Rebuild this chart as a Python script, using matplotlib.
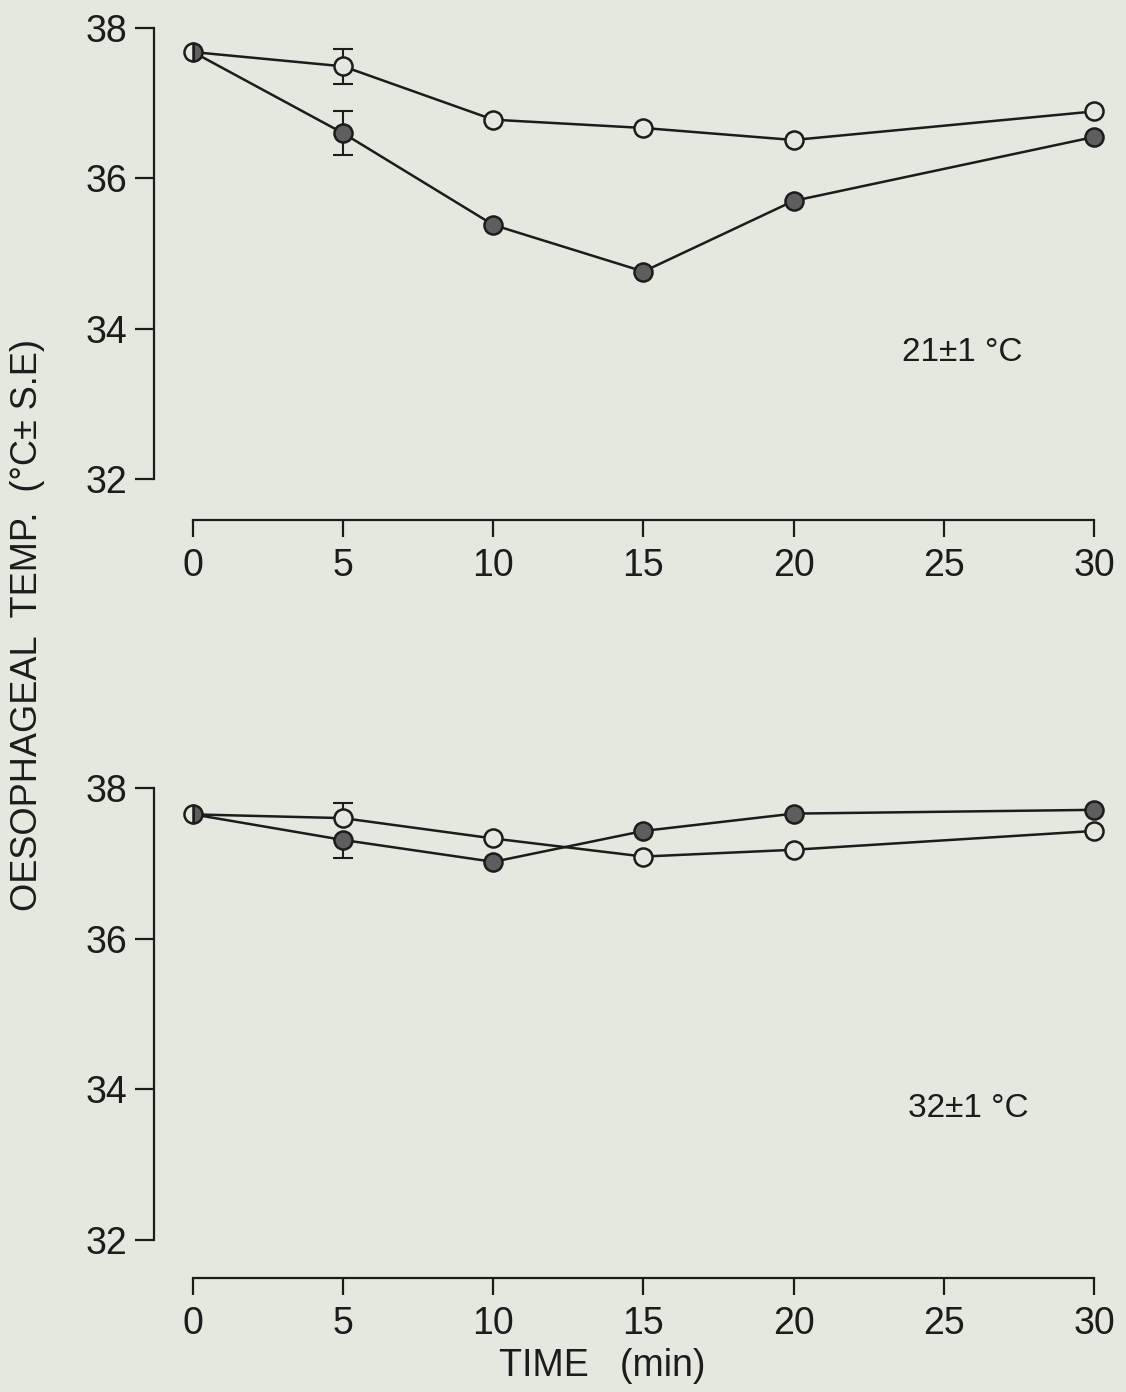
import matplotlib
matplotlib.use("Agg")
import matplotlib.pyplot as plt
import numpy as np

# ---- data ----
time = [0, 5, 10, 15, 20, 30]
xticks = [0, 5, 10, 15, 20, 25, 30]
yticks = [32, 34, 36, 38]

top_open = [37.68, 37.49, 36.78, 36.67, 36.51, 36.89]
top_filled = [37.68, 36.60, 35.38, 34.76, 35.70, 36.55]
top_open_err_lo = [0, 0.23, 0, 0, 0, 0]
top_open_err_hi = [0, 0.23, 0, 0, 0, 0]
top_filled_err_lo = [0, 0.29, 0, 0, 0, 0]
top_filled_err_hi = [0, 0.29, 0, 0, 0, 0]

bot_open = [37.65, 37.60, 37.33, 37.09, 37.18, 37.43]
bot_filled = [37.65, 37.31, 37.02, 37.43, 37.66, 37.71]
bot_open_err_lo = [0, 0, 0, 0, 0, 0]
bot_open_err_hi = [0, 0.20, 0, 0, 0, 0]
bot_filled_err_lo = [0, 0.24, 0, 0, 0, 0]
bot_filled_err_hi = [0, 0, 0, 0, 0, 0]

top_label = "21±1 °C"
bot_label = "32±1 °C"
ylabel = "OESOPHAGEAL  TEMP.  (°C± S.E)"
xlabel = "TIME   (min)"

# ---- style ----
BG = "#e4e8de"
INK = "#1c1c1c"
GREY = "#5e5e5e"
FS = 27
plt.rcParams["font.family"] = ["Liberation Sans", "DejaVu Sans"]

W, H = 1126, 1392
fig = plt.figure(figsize=(W / 100, H / 100), dpi=100, facecolor=BG)

left = 154 / W
xmin, xmax = -1.3, 30.9
width = (xmax - xmin) * 30.03 / W


def make_axes(top_px, bot_px, outward_px):
    ax = fig.add_axes([left, 1 - bot_px / H, width, (bot_px - top_px) / H])
    ax.set_facecolor("none")
    ax.set_xlim(xmin, xmax)
    ax.set_ylim(32, 38)
    for s in ["top", "right"]:
        ax.spines[s].set_visible(False)
    ax.spines["left"].set_bounds(32, 38)
    ax.spines["bottom"].set_bounds(0, 30)
    ax.spines["bottom"].set_position(("outward", outward_px * 0.72))
    for s in ["left", "bottom"]:
        ax.spines[s].set_linewidth(1.6)
        ax.spines[s].set_color(INK)
    ax.set_xticks(xticks)
    ax.set_yticks(yticks)
    ax.tick_params(axis="y", direction="out", length=14, width=1.6, pad=5,
                   labelsize=FS, colors=INK)
    ax.tick_params(axis="x", direction="out", length=12, width=1.6, pad=8,
                   labelsize=FS, colors=INK)
    return ax


def draw(ax, t, yo, yf, eo_lo, eo_hi, ef_lo, ef_hi):
    lw = 1.8
    ms = 13
    ax.plot(t, yo, "-", color=INK, lw=lw, zorder=2)
    ax.plot(t, yf, "-", color=INK, lw=lw, zorder=2)
    # error bars
    for y, lo, hi in [(yo, eo_lo, eo_hi), (yf, ef_lo, ef_hi)]:
        for i in range(len(t)):
            if lo[i] > 0 or hi[i] > 0:
                ax.errorbar([t[i]], [y[i]], yerr=[[lo[i]], [hi[i]]], fmt="none",
                            ecolor=INK, elinewidth=1.5, capsize=7, capthick=1.5,
                            zorder=3)
    # open markers
    ax.plot(t[1:], yo[1:], "o", ms=ms, mfc=BG, mec=INK, mew=1.8, zorder=4, ls="none")
    # filled markers
    ax.plot(t[1:], yf[1:], "o", ms=ms, mfc=GREY, mec=INK, mew=1.8, zorder=4, ls="none")
    # shared first point (half filled)
    ax.plot(t[:1], yf[:1], "o", ms=ms, mfc=GREY, mfcalt=BG, fillstyle="right",
            mec=INK, mew=1.8, zorder=5, ls="none")


ax1 = make_axes(28, 479, 41)
draw(ax1, time, top_open, top_filled, top_open_err_lo, top_open_err_hi,
     top_filled_err_lo, top_filled_err_hi)
ax1.text(25.6, 33.68, top_label, ha="center", va="center", fontsize=FS - 3, color=INK)

ax2 = make_axes(788, 1240, 38)
draw(ax2, time, bot_open, bot_filled, bot_open_err_lo, bot_open_err_hi,
     bot_filled_err_lo, bot_filled_err_hi)
ax2.text(25.8, 33.74, bot_label, ha="center", va="center", fontsize=FS - 3, color=INK)

fig.text(28 / W, 1 - 625 / H, ylabel, rotation=90, ha="center", va="center",
         fontsize=26, color=INK)
fig.text(602 / W, 1 - 1366 / H, xlabel, ha="center", va="center",
         fontsize=FS, color=INK)

fig.savefig("out.png", dpi=100, facecolor=BG)
